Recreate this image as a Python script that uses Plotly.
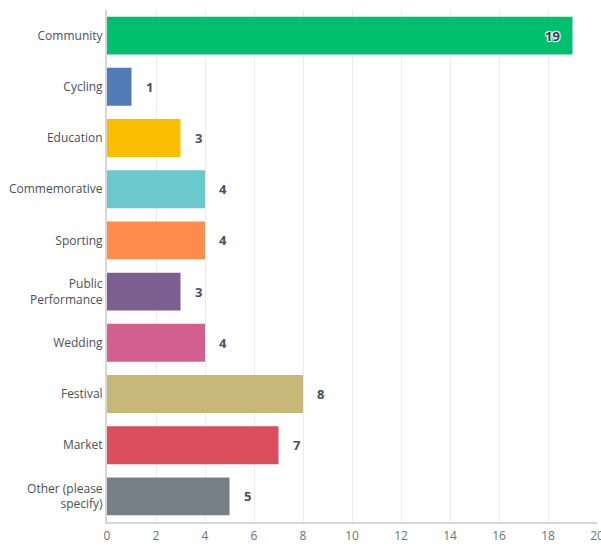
import plotly.graph_objects as go

categories = ["Community", "Cycling", "Education", "Commemorative", "Sporting",
              "Public<br>Performance", "Wedding", "Festival", "Market", "Other (please<br>specify)"]
values = [19, 1, 3, 4, 4, 3, 4, 8, 7, 5]
colors = ["#00bf6f", "#507cb6", "#f9be00", "#6bc8cd", "#ff8b4f",
          "#7d5e90", "#d25f90", "#c7b879", "#dc4e5e", "#768086"]
x_ticks = [0, 2, 4, 6, 8, 10, 12, 14, 16, 18, 20]

fig = go.Figure()
fig.add_trace(go.Bar(
    x=values, y=categories, orientation="h",
    marker=dict(color=colors, line=dict(width=0)),
    hoverinfo="skip",
))

FONT = "Open Sans"
for v, c in zip(values, categories):
    if v >= 18:
        fig.add_annotation(x=v, y=c, text="<b>%d</b>" % v, showarrow=False,
                           xanchor="right", xshift=-11,
                           font=dict(family=FONT, size=13, color="#333e48",
                                     shadow="1px 1px 1px white, -1px -1px 1px white, 1px -1px 1px white, -1px 1px 1px white"))
    else:
        fig.add_annotation(x=v, y=c, text="<b>%d</b>" % v, showarrow=False,
                           xanchor="left", xshift=12,
                           font=dict(family=FONT, size=13, color="#4a5058"))

fig.update_layout(
    width=601, height=546,
    margin=dict(l=107, r=4, t=10, b=24),
    paper_bgcolor="white", plot_bgcolor="white",
    bargap=0.26,
    showlegend=False,
    font=dict(family=FONT, size=12, color="#4a5058"),
)
fig.update_xaxes(range=[0, 20], tickvals=x_ticks, showgrid=True, gridcolor="#ebebeb", gridwidth=1,
                 zeroline=False, showline=True, linecolor="#d6d6d6", linewidth=2,
                 ticks="outside", ticklen=2, tickcolor="rgba(0,0,0,0)", ticklabeloverflow="allow",
                 tickfont=dict(family=FONT, size=12, color="#6b737a"), automargin=False, fixedrange=True)
fig.update_yaxes(autorange="reversed", showline=True, linecolor="#d6d6d6", linewidth=2,
                 showgrid=False, ticks="",
                 tickfont=dict(family=FONT, size=12, color="#4a5058"), automargin=False, fixedrange=True)

fig.write_html("out.html", config={"displayModeBar": False})
